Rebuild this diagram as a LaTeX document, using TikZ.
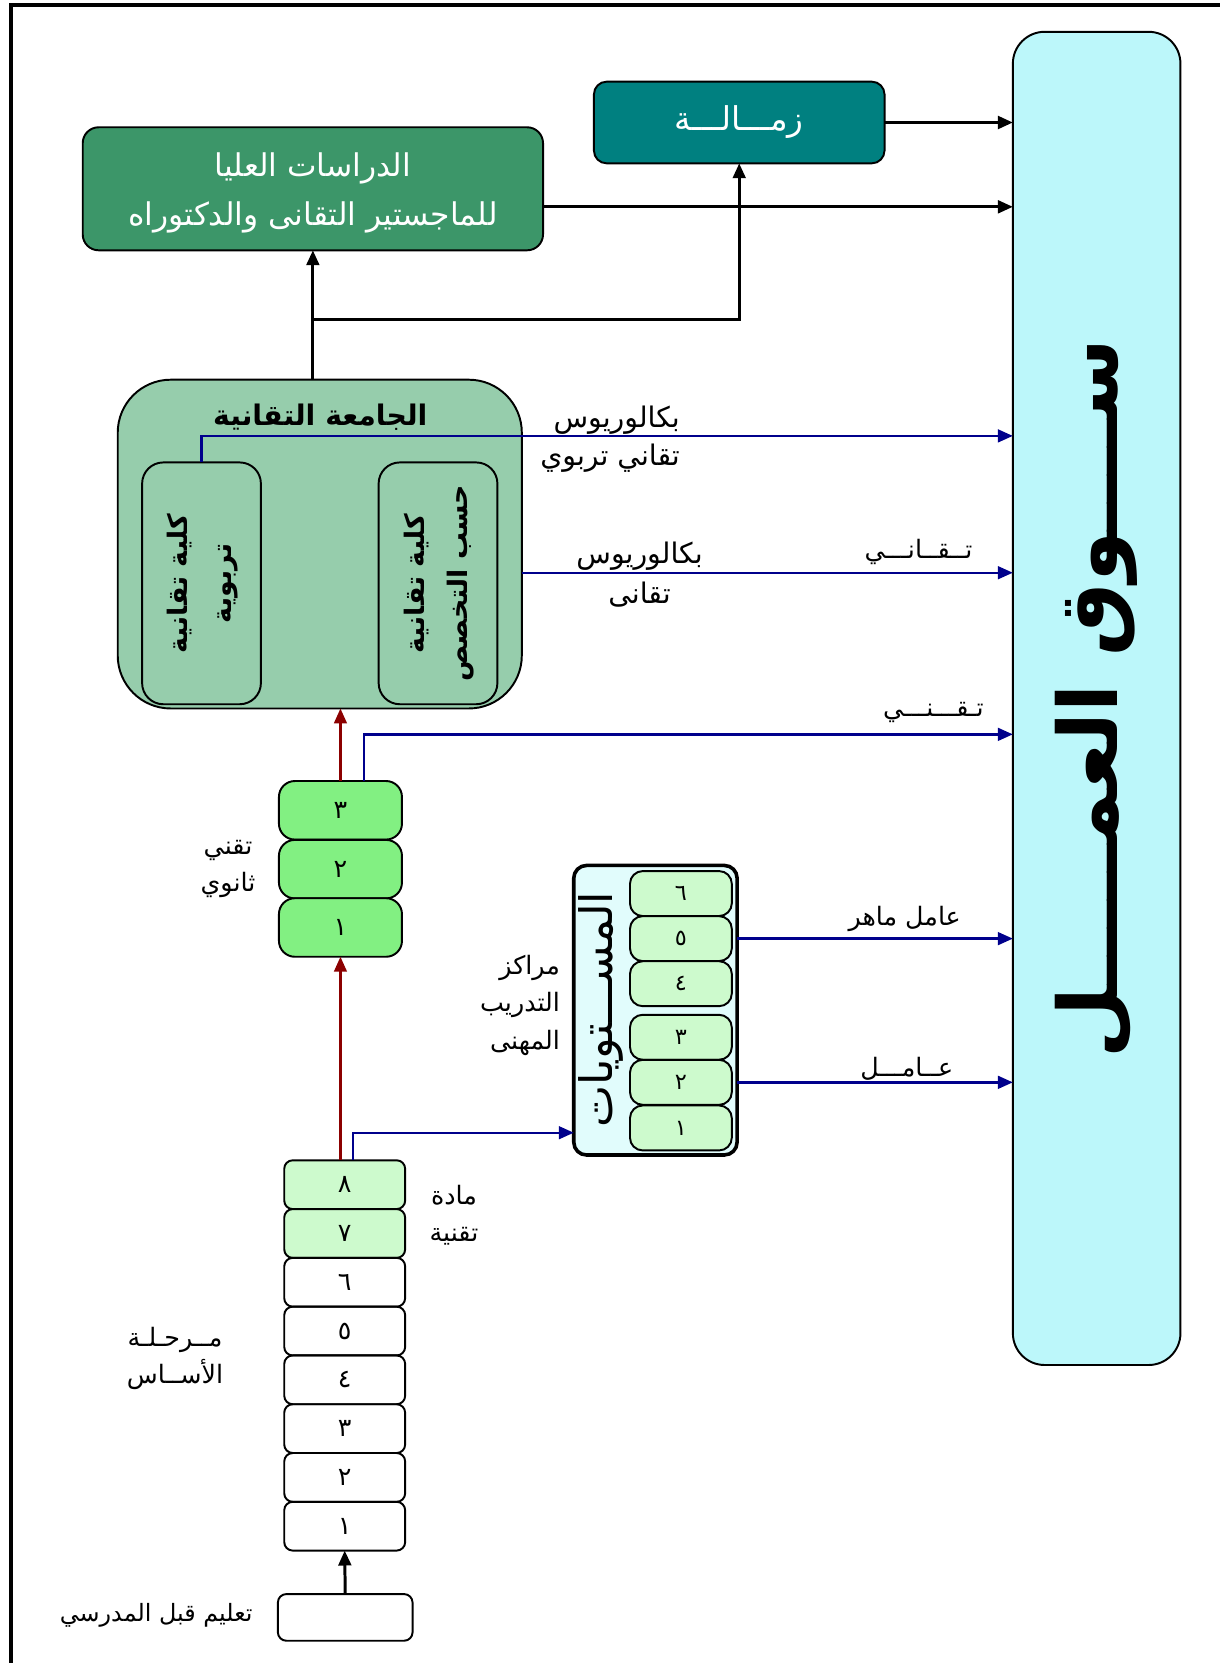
\documentclass[tikz,border=0pt]{standalone}
\usepackage{fontspec}
\usetikzlibrary{arrows.meta}
\newfontfamily\arabicfont[Script=Arabic]{DejaVu Sans}
\TeXXeTstate=1
\newcommand{\artext}[1]{\beginR#1\endR}
\definecolor{marketfill}{RGB}{188,247,250}
\definecolor{pgfill}{RGB}{60,150,105}
\definecolor{tealbox}{RGB}{0,128,128}
\definecolor{unifill}{RGB}{150,205,172}
\definecolor{secfill}{RGB}{130,240,130}
\definecolor{lightgreen}{RGB}{205,250,205}
\definecolor{trainfill}{RGB}{225,252,252}
\definecolor{navyline}{RGB}{0,0,140}
\definecolor{darkred}{RGB}{140,0,0}
\begin{document}
\begin{tikzpicture}[x=0.25mm,y=-0.25mm,inner sep=0pt,outer sep=0pt,font=\arabicfont,
rbox/.style={draw,rectangle,rounded corners=#1,line width=1.3pt},
rbox/.default=2mm,
blk/.style={line width=2pt,-{Triangle[length=10pt,width=8.5pt]}},
blu/.style={draw=navyline,line width=1.6pt,-{Triangle[length=10pt,width=8.5pt]}},
rdline/.style={draw=darkred,line width=1.6pt,-{Triangle[length=10pt,width=8.5pt]}},
lbl/.style={font=\arabicfont\fontsize{17}{25}\selectfont,align=center},
secbox/.style={rbox=3.75mm,fill=secfill,minimum width=29mm,minimum height=13.8mm,font=\arabicfont\fontsize{17}{17}\selectfont},
stagebox/.style={rbox=2mm,minimum width=28.5mm,minimum height=11.5mm,font=\arabicfont\fontsize{17}{17}\selectfont},
levelbox/.style={rbox=3mm,fill=lightgreen,minimum width=24mm,minimum height=10.6mm,font=\arabicfont\fontsize{15}{15}\selectfont}]
\useasboundingbox (0,0) rectangle (1150,1568);
\draw[line width=2.8pt] (10,1568) -- (10,5) -- (1150,5);
% right column
\draw (1034,658.5) node[rbox=7.5mm,fill=marketfill,minimum width=39.5mm,minimum height=314.25mm] (market) {\rotatebox{90}{\fontsize{55}{55}\selectfont\bfseries\artext{ســــوق العمـــــل}}};
% top boxes
\draw (697,115.5) node[rbox=3mm,fill=tealbox,text=white,minimum width=68.5mm,minimum height=19.25mm,font=\arabicfont\fontsize{22}{22}\selectfont] (zamala) {\artext{زمـــالـــة}};
\draw (295,178) node[rbox=3.75mm,fill=pgfill,text=white,minimum width=108.5mm,minimum height=29mm,font=\arabicfont\fontsize{21}{32.7}\selectfont] (postgrad) {\raisebox{-6.7pt}[0pt][0pt]{\begin{tabular}{@{}c@{}}\artext{الدراسات العليا}\\\artext{للماجستير التقانى والدكتوراه}\end{tabular}}};
% university
\draw (301.5,513) node[rbox=12.5mm,fill=unifill,minimum width=95.25mm,minimum height=77.5mm] (uni) {};
\draw (302,393) node[font=\arabicfont\bfseries\fontsize{19}{19}\selectfont] (uniTitle) {\artext{الجامعة التقانية}};
\draw (190,550) node[rbox=5mm,minimum width=28mm,minimum height=57mm,font=\arabicfont\bfseries\fontsize{18}{27}\selectfont] (colEdu) {\rotatebox{90}{\begin{tabular}{@{}c@{}}\artext{كلية تقانية}\\[2pt]\artext{تربوية}\end{tabular}}};
\draw (413,550) node[rbox=5mm,minimum width=28mm,minimum height=57mm,font=\arabicfont\bfseries\fontsize{18}{27}\selectfont] (colSpec) {\rotatebox{90}{\begin{tabular}{@{}c@{}}\artext{كلية تقانية}\\[2pt]\artext{حسب التخصص}\end{tabular}}};
% secondary
\draw (321,764) node[secbox] (sec3) {٣};
\draw (321,819.5) node[secbox] (sec2) {٢};
\draw (321,874.5) node[secbox] (sec1) {١};
% basic stage
\draw (325,1117) node[stagebox,fill=lightgreen] (bas8) {٨};
\draw (325,1163) node[stagebox,fill=lightgreen] (bas7) {٧};
\draw (325,1209) node[stagebox] (bas6) {٦};
\draw (325,1255) node[stagebox] (bas5) {٥};
\draw (325,1301) node[stagebox] (bas4) {٤};
\draw (325,1347) node[stagebox] (bas3) {٣};
\draw (325,1393) node[stagebox] (bas2) {٢};
\draw (325,1439) node[stagebox] (bas1) {١};
\draw (325.5,1525) node[rbox=2mm,minimum width=31.75mm,minimum height=11mm] (pre) {};
% training centres
\draw (618,952.5) node[rbox=3mm,line width=2.4pt,fill=trainfill,minimum width=38.5mm,minimum height=68.25mm] (train) {};
\draw (567,952) node[rotate=90,font=\arabicfont\fontsize{30}{30}\selectfont] (levels) {\artext{المســـتويات}};
\draw (642,842.5) node[levelbox] (lvl6) {٦};
\draw (642,885) node[levelbox] (lvl5) {٥};
\draw (642,927.5) node[levelbox] (lvl4) {٤};
\draw (642,978) node[levelbox] (lvl3) {٣};
\draw (642,1020.5) node[levelbox] (lvl2) {٢};
\draw (642,1063.5) node[levelbox] (lvl1) {١};
% black connectors
\draw[blk] (zamala.east) -- (zamala.east -| market.west);
\draw[blk] ([yshift=-4.25mm]postgrad.east) coordinate (pgOut) -- (pgOut -| market.west);
\draw[blk] (postgrad.south |- uni.north) -- (postgrad.south);
\coordinate (split) at (295,301);
\draw[blk] (split) -| (zamala.south);
\draw[blk] (pre.north) -- (bas1.south);
% red connectors
\draw[rdline] (sec3.north) -- (sec3.north |- uni.south);
\draw[rdline] (sec1.south |- bas8.north) -- (sec1.south);
% blue connectors
\draw[blu] (colEdu.north) -- ++(0,-25) coordinate (bEdu) -- (bEdu -| market.west);
\draw[blu] ([yshift=-6.75mm]uni.east) coordinate (bTech) -- (bTech -| market.west);
\draw[blu] ([xshift=5.5mm]sec3.north) -- ++(0,-44) coordinate (bSec) -- (bSec -| market.west);
\draw[blu] ([xshift=2mm]bas8.north) -- ++(0,-26) coordinate (bBas) -- (bBas -| train.west);
\draw[blu] (lvl5 -| train.east) -- (lvl5 -| market.west);
\draw[blu] (lvl2 -| train.east) -- (lvl2 -| market.west);
% labels
\draw (641,396) node[lbl,anchor=east,font=\arabicfont\fontsize{19}{25}\selectfont] (bacEdu) {\artext{بكالوريوس}};
\draw (641,432) node[lbl,anchor=east,font=\arabicfont\fontsize{19}{25}\selectfont] (bacEduB) {\artext{تقاني تربوي}};
\draw (603,524) node[lbl,font=\arabicfont\fontsize{19}{25}\selectfont] (bacTech) {\artext{بكالوريوس}};
\draw (603,561) node[lbl,font=\arabicfont\fontsize{19}{25}\selectfont] (bacTechB) {\artext{تقانى}};
\draw (866,520) node[lbl] (tqani) {\artext{تــقــانـــي}};
\draw (880,672) node[lbl] (tqni) {\artext{تـقـــنـــي}};
\draw (853,866) node[lbl] (skilled) {\artext{عامل ماهر}};
\draw (855,1008) node[lbl] (worker) {\artext{عــامـــل}};
\draw (215,819) node[lbl] (secLbl) {\artext{تقني}\\\artext{ثانوي}};
\draw (528,948) node[lbl,anchor=east,align=right] (trainLbl) {\artext{مراكز}\\\artext{التدريب}\\\artext{المهنى}};
\draw (428,1146) node[lbl] (techLbl) {\artext{مادة}\\\artext{تقنية}};
\draw (165,1281) node[lbl] (basLbl) {\artext{مــرحـلـة}\\\artext{الأســاس}};
\draw (238,1523) node[lbl,anchor=east,font=\arabicfont\fontsize{16}{25}\selectfont] (preLbl) {\artext{تعليم قبل المدرسي}};
\end{tikzpicture}
\end{document}
